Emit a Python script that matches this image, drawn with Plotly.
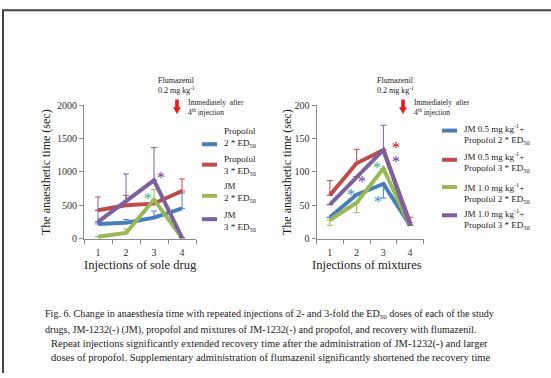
import plotly.graph_objects as go

W, H = 551, 378
def px(x):
    return x / W
def py(y):
    return 1 - y / H

# ---------------- data ----------------
injections = [1, 2, 3, 4]
tick_labels = ["1", "2", "3", "4"]

sole_names = ["Propofol<br>2 * ED<sub>50</sub>", "Propofol<br>3 * ED<sub>50</sub>",
              "JM<br>2 * ED<sub>50</sub>", "JM<br>3 * ED<sub>50</sub>"]
sole_prop2 = [220, 240, 315, 455]
sole_prop3 = [425, 500, 525, 715]
sole_jm2 = [30, 85, 585, 10]
sole_jm3 = [250, 560, 875, 15]
sole_prop2_err = [30, 48, 100, 228]
sole_prop3_err = [0, 150, 0, 180]
sole_jm2_err = [0, 60, 150, 0]
sole_jm3_err = [375, 410, 490, 0]

mix_names = ["JM 0.5 mg kg<sup>-1</sup>+<br>Propofol 2 * ED<sub>50</sub>",
             "JM 0.5 mg kg<sup>-1</sup>+<br>Propofol 3 * ED<sub>50</sub>",
             "JM 1.0 mg kg<sup>-1</sup>+<br>Propofol 2 * ED<sub>50</sub>",
             "JM 1.0 mg kg<sup>-1</sup>+<br>Propofol 3 * ED<sub>50</sub>"]
mix_a = [32, 66, 82, 20]
mix_b = [65, 113, 133, 24]
mix_c = [28, 54, 105, 20]
mix_d = [51, 93, 133, 20]
mix_a_plus, mix_a_minus = [0, 0, 0, 0], [0, 0, 21, 0]
mix_b_plus, mix_b_minus = [22, 21, 0, 8], [0, 0, 0, 0]
mix_c_plus, mix_c_minus = [0, 0, 0, 0], [8, 15, 0, 0]
mix_d_plus, mix_d_minus = [0, 0, 37, 0], [0, 0, 0, 0]

# significance stars
sole_star_x = [3.25, 2.77]
sole_star_y = [966, 644]
sole_star_c = ["#7030A0", "#2EB872"]
mix_star_x = [3.47, 3.47, 2.21, 2.77, 1.78, 2.79]
mix_star_y = [141, 120, 90, 111, 71, 60]
mix_star_c = ["#C00000", "#7030A0", "#7030A0", "#2EB872", "#1F8FD0", "#1F8FD0"]

colors = ["#4A7EBB", "#BE4B48", "#98B954", "#7D60A0"]
SERIF = "Liberation Serif"

fig = go.Figure()

sole_series = [(sole_prop2, sole_prop2_err), (sole_prop3, sole_prop3_err),
               (sole_jm2, sole_jm2_err), (sole_jm3, sole_jm3_err)]
for (vals, err), name, c in zip(sole_series, sole_names, colors):
    fig.add_trace(go.Scatter(
        x=injections, y=vals, mode="lines", name=name, showlegend=False,
        line=dict(color=c, width=4),
        error_y=dict(type="data", symmetric=False, array=err,
                     arrayminus=[0] * len(err), color=c, thickness=1, width=3),
        xaxis="x", yaxis="y"))

mix_series = [(mix_a, mix_a_plus, mix_a_minus), (mix_b, mix_b_plus, mix_b_minus),
              (mix_c, mix_c_plus, mix_c_minus), (mix_d, mix_d_plus, mix_d_minus)]
for (vals, ep, em), name, c in zip(mix_series, mix_names, colors):
    fig.add_trace(go.Scatter(
        x=injections, y=vals, mode="lines", name=name, showlegend=False,
        line=dict(color=c, width=4),
        error_y=dict(type="data", symmetric=False, array=ep, arrayminus=em,
                     color=c, thickness=1, width=3),
        xaxis="x2", yaxis="y2"))

ydom = [py(240), py(103)]
axis_common = dict(showline=True, linecolor="#8a8a8a", linewidth=1, showgrid=False,
                   zeroline=False, tickfont=dict(family=SERIF, size=10, color="#333"))
xcommon = dict(axis_common, range=[0.5, 4.5], tickmode="array", tickvals=injections,
               ticktext=tick_labels, ticks="", ticklabelstandoff=4,
               minor=dict(tickmode="array", tickvals=[0.5, 1.5, 2.5, 3.5, 4.5],
                          ticks="outside", ticklen=4, tickcolor="#8a8a8a"))
fig.update_layout(
    width=W, height=H, margin=dict(l=0, r=0, t=0, b=0),
    paper_bgcolor="white", plot_bgcolor="white",
    xaxis=dict(xcommon, domain=[px(84), px(196)], anchor="y"),
    yaxis=dict(axis_common, domain=ydom, range=[0, 2000], tickvals=[0, 500, 1000, 1500, 2000],
               ticks="outside", ticklen=4, tickcolor="#8a8a8a", anchor="x"),
    xaxis2=dict(xcommon, domain=[px(316.5), px(423.5)], anchor="y2"),
    yaxis2=dict(axis_common, domain=ydom, range=[0, 200], tickvals=[0, 50, 100, 150, 200],
                ticks="outside", ticklen=4, tickcolor="#8a8a8a", anchor="x2"),
)

ann = []
shapes = []

def text(x, y, t, size, xa="center", ya="middle", **kw):
    ann.append(dict(x=px(x), y=py(y), xref="paper", yref="paper", text=t,
                    showarrow=False, xanchor=xa, yanchor=ya,
                    font=dict(family=SERIF, size=size, color="#222"), **kw))

# stars
for xs, ys, cs, xr, yr in [(sole_star_x, sole_star_y, sole_star_c, "x", "y"),
                           (mix_star_x, mix_star_y, mix_star_c, "x2", "y2")]:
    for sx, sy, sc in zip(xs, ys, cs):
        ann.append(dict(x=sx, y=sy, xref=xr, yref=yr, text="*", showarrow=False,
                        xanchor="center", yanchor="middle",
                        font=dict(family=SERIF, size=16, color=sc), yshift=-3))

# axis titles
for x in (46, 287):
    text(x, 171.5, "The anaesthetic time (sec)", 12, textangle=-90)
text(140, 267, "Injections of sole drug", 12.5)
text(367, 267, "Injections of mixtures", 12.5)

# legends
leg_sets = [(202, sole_names, [143, 164, 196, 220], [136, 165, 193, 222]),
            (442, mix_names, [129, 159, 187, 216], [133, 161, 193, 220])]
for lx, names, ly, ty in leg_sets:
    for name, c, yl, yt in zip(names, colors, ly, ty):
        shapes.append(dict(type="line", xref="paper", yref="paper", x0=px(lx), x1=px(lx + 15),
                           y0=py(yl), y1=py(yl), line=dict(color=c, width=4)))
        text(lx + 20, yt, name, 9, xa="left", align="left")

# flumazenil notes
for cx, ax in [(177, 176), (403, 395)]:
    text(ax, 83, "Flumazenil<br>0.2 mg kg<sup>-1</sup>", 8, align="left")
    text(cx + 9, 105, "Immediately  after<br>4<sup>th</sup> injection", 7.5, xa="left", align="left")
    path = (f"M {px(cx-1.8)},{py(97)} L {px(cx+1.8)},{py(97)} L {px(cx+1.8)},{py(105)} "
            f"L {px(cx+4)},{py(105)} L {px(cx)},{py(112)} L {px(cx-4)},{py(105)} "
            f"L {px(cx-1.8)},{py(105)} Z")
    shapes.append(dict(type="path", xref="paper", yref="paper", path=path,
                       fillcolor="#E41A1C", line=dict(width=0)))

# caption
caption = [
    (43, 318, 10.1, "Fig. 6. Change in anaesthesia time with repeated injections of 2- and 3-fold the ED<sub>50</sub> doses of each of the study"),
    (43, 334, 10.1, "drugs, JM-1232(-) (JM), propofol and mixtures of JM-1232(-) and propofol, and recovery with flumazenil."),
    (49, 348, 10.5, "Repeat injections significantly extended recovery time after the administration of JM-1232(-) and larger"),
    (49, 362, 10.5, "doses of propofol. Supplementary administration of flumazenil significantly shortened the recovery time"),
]
for x, y, s, t in caption:
    text(x, y, t, s, xa="left", align="left")

# page frame
shapes.append(dict(type="line", xref="paper", yref="paper", x0=px(2), x1=1,
                   y0=py(5.5), y1=py(5.5), line=dict(color="#444", width=2)))
shapes.append(dict(type="line", xref="paper", yref="paper", x0=px(3), x1=px(3),
                   y0=py(5), y1=0, line=dict(color="#444", width=2)))

fig.update_layout(annotations=ann, shapes=shapes)
fig.write_html("out.html", config={"displayModeBar": False},
               post_script="document.body.style.margin='0px';document.body.style.overflow='hidden';")
